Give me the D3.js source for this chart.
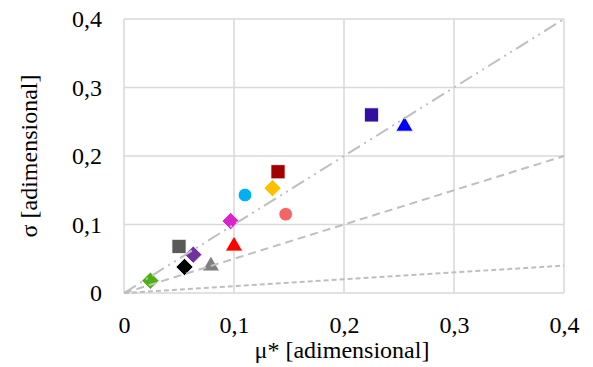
<!DOCTYPE html>
<html><head><meta charset="utf-8">
<script src="https://cdn.jsdelivr.net/npm/d3@7"></script>
<style>body{margin:0;background:#fff}svg{display:block}</style>
</head><body><svg id="c" width="593" height="367" font-family="Liberation Serif, serif"></svg>
<script>
const muStar = [0.225, 0.255, 0.140, 0.135, 0.110, 0.147, 0.097, 0.100, 0.050, 0.063, 0.055, 0.079, 0.024];
const sigma  = [0.260, 0.245, 0.177, 0.153, 0.143, 0.115, 0.105, 0.070, 0.068, 0.056, 0.038, 0.041, 0.018];
const shapes = ["square","triangle","square","diamond","circle","circle","diamond","triangle","square","diamond","diamond","triangle","diamond"];
const colors = ["#33109f","#0000ff","#a00000","#ffc000","#00b0f0","#f26666","#dc22cc","#ff0000","#595959","#7030a0","#000000","#808080","#4caf12"];
const refSlopes = [1, 0.5, 0.1];
const refDash = ["14,5,2,5,2,5", "8,5", "5,3"];
const ticks = [0, 0.1, 0.2, 0.3, 0.4];
const fmt = d => d === 0 ? "0" : String(d).replace(".", ",");
const serif = "Liberation Serif, serif";
const fs = 24;

const svg = d3.select("#c");
const x = d3.scaleLinear().domain([0, 0.4]).range([124, 564]);
const y = d3.scaleLinear().domain([0, 0.4]).range([293, 19]);

svg.append("g").selectAll("line").data(ticks).join("line")
  .attr("x1", d => x(d)).attr("x2", d => x(d)).attr("y1", y(0)).attr("y2", y(0.4))
  .attr("stroke", "#d9d9d9").attr("stroke-width", 1.5);
svg.append("g").selectAll("line").data(ticks).join("line")
  .attr("y1", d => y(d)).attr("y2", d => y(d)).attr("x1", x(0)).attr("x2", x(0.4))
  .attr("stroke", "#d9d9d9").attr("stroke-width", 1.5);

const xa = svg.append("g").attr("transform", `translate(0,${y(0)})`)
  .call(d3.axisBottom(x).tickValues(ticks).tickFormat(fmt).tickSize(0).tickPadding(23));
xa.attr("font-family", serif).attr("font-size", fs);
xa.select(".domain").remove();
xa.selectAll("text").attr("fill", "#000");
const ya = svg.append("g").attr("transform", `translate(${x(0)},0)`)
  .call(d3.axisLeft(y).tickValues(ticks).tickFormat(fmt).tickSize(0).tickPadding(22));
ya.attr("font-family", serif).attr("font-size", fs);
ya.select(".domain").remove();
ya.selectAll("text").attr("fill", "#000");

const sym = {square: d3.symbolSquare, triangle: d3.symbolTriangle, diamond: d3.symbolSquare, circle: d3.symbolCircle};
const size = {square: 200, triangle: 130, diamond: 150, circle: 145};
svg.append("g").selectAll("path").data(muStar).join("path")
  .attr("d", (d, i) => d3.symbol(sym[shapes[i]], size[shapes[i]])())
  .attr("transform", (d, i) => `translate(${x(d)},${y(sigma[i])})` + (shapes[i] === "diamond" ? " rotate(45)" : "") + (shapes[i] === "triangle" ? " translate(0,1)" : ""))
  .attr("fill", (d, i) => colors[i])
  .attr("stroke", "#fff").attr("stroke-width", 0.8);

svg.append("g").selectAll("line").data(refSlopes).join("line")
  .attr("x1", x(0)).attr("y1", y(0))
  .attr("x2", x(0.4)).attr("y2", d => y(0.4 * d))
  .attr("stroke", "#bfbfbf").attr("stroke-width", 2)
  .attr("stroke-dasharray", (d, i) => refDash[i]);

svg.append("text").attr("x", 342).attr("y", 358).attr("text-anchor", "middle")
  .attr("font-family", serif).attr("font-size", fs).attr("fill", "#000").text("μ* [adimensional]");
svg.append("text").attr("transform", "translate(37,156) rotate(-90)").attr("text-anchor", "middle")
  .attr("font-family", serif).attr("font-size", fs).attr("fill", "#000").text("σ [adimensional]");
</script></body></html>
